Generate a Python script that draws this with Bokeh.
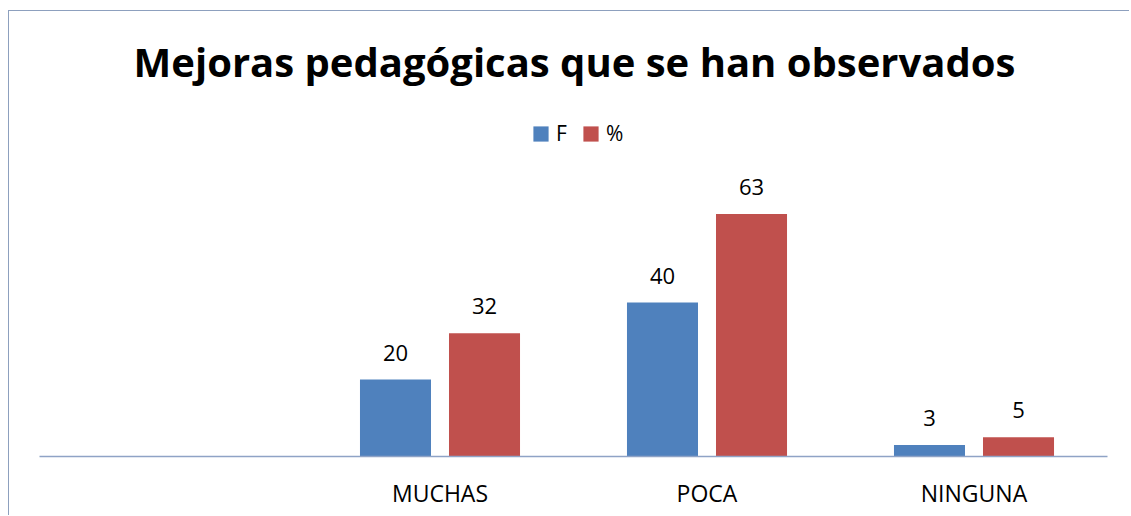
from bokeh.plotting import figure
from bokeh.models import ColumnDataSource, FactorRange, LabelSet, Label, Legend, LegendItem
from bokeh.transform import dodge
from bokeh.core.properties import value
from bokeh.embed import file_html
from bokeh.resources import INLINE

# ---- data ----
factors = [" ", "MUCHAS", "POCA", "NINGUNA"]
categories = ["MUCHAS", "POCA", "NINGUNA"]
f_values = [20, 40, 3]
pct_values = [32, 63, 5]
series_names = ["F", "%"]
title_text = "Mejoras pedagógicas que se han observados"

BLUE = "#4F81BD"
RED = "#C0504D"
AXIS = "#8FA3C6"
FONT = "Open Sans"

src = ColumnDataSource(dict(
    cat=categories,
    f=f_values,
    pct=pct_values,
    f_lab=[str(v) for v in f_values],
    pct_lab=[str(v) for v in pct_values],
))

p = figure(
    width=1121, height=505,
    x_range=FactorRange(*factors, range_padding=0),
    y_range=(0, 115.6),
    output_backend="svg", toolbar_location=None,
    min_border_left=30, min_border_right=23, min_border_top=0, min_border_bottom=60,
)
p.styles = {"margin-left": "8px", "margin-top": "10px",
            "border-left": "1px solid #8DA0BE", "border-top": "1px solid #8DA0BE"}
p.outline_line_color = None
p.background_fill_color = "white"
p.border_fill_color = "white"
p.xgrid.visible = False
p.ygrid.visible = False
p.yaxis.visible = False

off = 0.1667
w = 0.266
rf = p.vbar(x=dodge("cat", -off, range=p.x_range), top="f", width=w, source=src,
            fill_color=BLUE, line_color=None)
rp = p.vbar(x=dodge("cat", off, range=p.x_range), top="pct", width=w, source=src,
            fill_color=RED, line_color=None)

for col, txt, o in (("f", "f_lab", -off), ("pct", "pct_lab", off)):
    p.add_layout(LabelSet(x=dodge("cat", o, range=p.x_range), y=col, text=txt, source=src,
                          y_offset=19, text_align="center", text_baseline="alphabetic",
                          text_font=value(FONT), text_font_size=value("22px"),
                          text_color="black"))

ax = p.xaxis[0]
ax.axis_line_color = AXIS
ax.axis_line_width = 1.5
ax.major_tick_line_color = None
ax.minor_tick_line_color = None
ax.major_tick_out = 0
ax.major_tick_in = 0
ax.major_label_standoff = 20
ax.major_label_text_font = FONT
ax.major_label_text_font_size = "23px"
ax.major_label_text_color = "black"

p.add_layout(Label(x=535, y=395, x_units="screen", y_units="screen", text=title_text,
                   text_align="center", text_baseline="alphabetic",
                   text_font=FONT, text_font_style="bold", text_font_size="40px",
                   text_color="black"))

legend = Legend(items=[LegendItem(label=series_names[0], renderers=[rf]),
                       LegendItem(label=series_names[1], renderers=[rp])],
                location=(492, 309), orientation="horizontal",
                glyph_width=19, glyph_height=19, label_standoff=6, spacing=5,
                padding=0, margin=0, border_line_color=None, background_fill_alpha=0,
                label_text_font=FONT, label_text_font_size="21px", label_height=20,
                label_text_color="black")
p.add_layout(legend, "center")

open("out.html", "w").write(file_html(p, INLINE))
